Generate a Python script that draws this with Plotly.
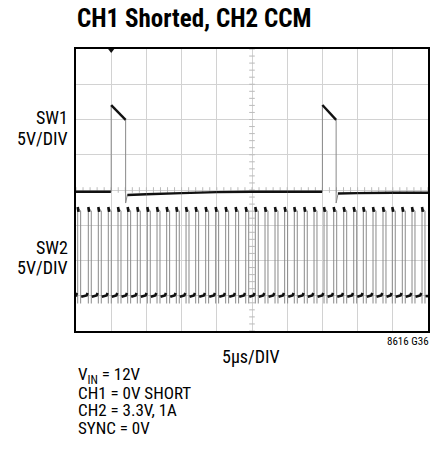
import plotly.graph_objects as go

# ---------------- data ----------------
# time axis in microseconds (5 us/div, 10 div), vertical in divisions (8 div)
SW1_GND_DIV = 3.97          # SW1 ground marker (div)
SW2_GND_DIV = 0.99          # SW2 ground marker (div)
VOLTS_PER_DIV = 5.0

# SW1: two pulses while CH1 is shorted
sw1_pulse_start = [5.0, 35.0]          # us
sw1_pulse_end = [7.05, 36.95]          # us
sw1_pulse_top = [12.2, 12.2]           # V at rising edge
sw1_pulse_droop = [10.1, 10.1]         # V at falling edge
sw1_undershoot = [-1.7, -1.7]          # V just after falling edge
# SW1 baseline (time, volts) between pulses
sw1_base_t = [0.0, 4.95, 7.3, 10.0, 15.0, 20.0, 25.0, 30.0, 34.95, 37.2, 40.0, 45.0, 50.0]
sw1_base_v = [-0.1, -0.1, -0.55, -0.45, -0.3, -0.15, -0.1, -0.1, -0.1, -0.35, -0.3, -0.25, -0.25]

# SW2: rising-edge times of each switching pulse (us)
sw2_rise = [0.24, 1.75, 3.17, 4.59, 5.97, 7.34, 8.71, 10.13, 11.51, 12.88, 14.25, 15.63,
            17.00, 18.42, 19.84, 21.26, 22.68, 24.11, 25.47, 26.85, 28.27, 29.64, 31.01, 32.43,
            33.81, 35.23, 36.61, 38.03, 39.45, 40.81, 42.19, 43.61, 44.93, 46.35, 47.73, 49.15]
SW2_ON_TIME = 0.42      # us
SW2_HIGH = 12.45        # V
SW2_HIGH_END = 12.1     # V
SW2_LOW = 0.0           # V
SW2_UNDER = -1.05       # V

TITLE = "CH1 Shorted, CH2 CCM"
CH_LABELS = [("SW1", "5V/DIV"), ("SW2", "5V/DIV")]
X_LABEL = "5µs/DIV"
FIG_ID = "8616 G36"
CONDITIONS = ["V<sub>IN</sub> = 12V", "CH1 = 0V SHORT", "CH2 = 3.3V, 1A", "SYNC = 0V"]

FONT = "Roboto Condensed, Liberation Sans Narrow, DejaVu Sans Condensed, Arial Narrow, Liberation Sans, sans-serif"

def d1(v):
    return SW1_GND_DIV + v / VOLTS_PER_DIV

def d2(v):
    return SW2_GND_DIV + v / VOLTS_PER_DIV

# ---------------- build trace geometry ----------------
GRAY = "#8a8a8a"
BLACK = "#111111"

# SW1 thin (edges) and thick (flat parts)
sw1_thin_x, sw1_thin_y = [], []
sw1_thick_x, sw1_thick_y = [], []
for s, e, top, dr, us in zip(sw1_pulse_start, sw1_pulse_end, sw1_pulse_top, sw1_pulse_droop, sw1_undershoot):
    sw1_thin_x += [s, s, None, e, e, e + 0.25, None]
    sw1_thin_y += [d1(-0.1), d1(top), None, d1(dr), d1(us), d1(-0.5), None]
    sw1_thick_x += [s, e, None]
    sw1_thick_y += [d1(top), d1(dr), None]
seg_x = list(sw1_base_t)
seg_y = [d1(v) for v in sw1_base_v]
for i in range(len(seg_x) - 1):
    t0, t1 = seg_x[i], seg_x[i + 1]
    if any(t0 < s + 0.01 and t1 > e - 0.01 for s, e in zip(sw1_pulse_start, sw1_pulse_end)):
        continue
    sw1_thick_x += [t0, t1, None]
    sw1_thick_y += [seg_y[i], seg_y[i + 1], None]

# SW2 thin edges, thick low segments and small thick tops
sw2_thin_x, sw2_thin_y = [], []
sw2_low_x, sw2_low_y = [], []
sw2_top_x, sw2_top_y = [], []
prev_end = 0.0
for tr in sw2_rise:
    tf = tr + SW2_ON_TIME
    sw2_thin_x += [tr, tr, tr + 0.06, tf, tf, None]
    sw2_thin_y += [d2(SW2_UNDER), d2(SW2_HIGH), d2(SW2_HIGH), d2(SW2_HIGH_END), d2(SW2_UNDER), None]
    sw2_top_x += [tr, tr + 0.12, None]
    sw2_top_y += [d2(SW2_HIGH + 0.2), d2(SW2_HIGH - 0.5), None]
    if tr - 0.05 > prev_end:
        sw2_low_x += [prev_end, tr - 0.25, tr - 0.1, None]
        sw2_low_y += [d2(SW2_LOW - 0.1), d2(SW2_LOW + 0.1), d2(SW2_LOW + 0.45), None]
    prev_end = tf + 0.08
sw2_low_x += [prev_end, 50.0, None]
sw2_low_y += [d2(SW2_LOW), d2(SW2_LOW), None]

fig = go.Figure()

# center-line minor ticks (graticule decoration)
minor_x = [i * 1.0 for i in range(51)]
minor_y = [i * 0.2 for i in range(41)]
fig.add_trace(go.Scatter(x=minor_x, y=[4.0] * len(minor_x), mode="markers",
                         marker=dict(symbol="line-ns", size=4, line=dict(width=1, color="#bbbbbb")),
                         hoverinfo="skip", showlegend=False))
fig.add_trace(go.Scatter(x=[25.0] * len(minor_y), y=minor_y, mode="markers",
                         marker=dict(symbol="line-ew", size=4, line=dict(width=1, color="#bbbbbb")),
                         hoverinfo="skip", showlegend=False))

fig.add_trace(go.Scatter(x=sw1_thin_x, y=sw1_thin_y, mode="lines",
                         line=dict(color=GRAY, width=1), hoverinfo="skip", showlegend=False))
fig.add_trace(go.Scatter(x=sw2_thin_x, y=sw2_thin_y, mode="lines",
                         line=dict(color=GRAY, width=1), hoverinfo="skip", showlegend=False))
fig.add_trace(go.Scatter(x=sw1_thick_x, y=sw1_thick_y, mode="lines",
                         line=dict(color=BLACK, width=2.4), hoverinfo="skip", showlegend=False))
fig.add_trace(go.Scatter(x=sw2_low_x, y=sw2_low_y, mode="lines",
                         line=dict(color=BLACK, width=2.6), hoverinfo="skip", showlegend=False))
fig.add_trace(go.Scatter(x=sw2_top_x, y=sw2_top_y, mode="lines",
                         line=dict(color=BLACK, width=2.6), hoverinfo="skip", showlegend=False))

# ground markers and trigger marker
fig.add_trace(go.Scatter(x=[-0.3, -0.3], y=[SW1_GND_DIV, SW2_GND_DIV], mode="markers",
                         marker=dict(symbol="triangle-right", size=6, color=BLACK),
                         cliponaxis=False, hoverinfo="skip", showlegend=False))
fig.add_trace(go.Scatter(x=[sw1_pulse_start[0]], y=[7.97], mode="markers",
                         marker=dict(symbol="triangle-down", size=6, color=BLACK),
                         cliponaxis=False, hoverinfo="skip", showlegend=False))

L, R, T, B = 76, 14, 49, 123
W, H = 442, 454
PW, PH = W - L - R, H - T - B

def px(x):
    return (x - L) / PW

def py(y):
    return (H - B - y) / PH

ann = []
ann.append(dict(text="<b>" + TITLE + "</b>", x=px(75), y=py(18), xref="paper", yref="paper",
                xanchor="left", yanchor="middle", showarrow=False,
                font=dict(family=FONT, size=25, color="#000")))
for (a, b), cy in zip(CH_LABELS, [118, 247]):
    ann.append(dict(text=a, x=px(70), y=py(cy), xref="paper", yref="paper",
                    xanchor="right", yanchor="middle", showarrow=False,
                    font=dict(family=FONT, size=18, color="#000")))
    ann.append(dict(text=b, x=px(70), y=py(cy + 20), xref="paper", yref="paper",
                    xanchor="right", yanchor="middle", showarrow=False,
                    font=dict(family=FONT, size=18, color="#000")))
ann.append(dict(text=X_LABEL, x=px(251), y=py(356), xref="paper", yref="paper",
                xanchor="center", yanchor="middle", showarrow=False,
                font=dict(family=FONT, size=18, color="#000")))
ann.append(dict(text=FIG_ID, x=px(431), y=py(342), xref="paper", yref="paper",
                xanchor="right", yanchor="middle", showarrow=False,
                font=dict(family=FONT, size=11, color="#000")))
for i, line in enumerate(CONDITIONS):
    ann.append(dict(text=line, x=px(77), y=py(375 + 17.5 * i), xref="paper", yref="paper",
                    xanchor="left", yanchor="middle", showarrow=False, borderpad=0,
                    font=dict(family=FONT, size=17, color="#000")))

fig.update_layout(
    width=W, height=H,
    margin=dict(l=L, r=R, t=T, b=B, pad=0),
    paper_bgcolor="white", plot_bgcolor="white",
    annotations=ann,
    xaxis=dict(range=[0, 50], dtick=5, showgrid=True, gridcolor="#d2d2d2", gridwidth=1,
               showticklabels=False, ticks="", zeroline=False,
               showline=True, linecolor="#000", linewidth=2, mirror=True),
    yaxis=dict(range=[0, 8], dtick=1, showgrid=True, gridcolor="#d2d2d2", gridwidth=1,
               showticklabels=False, ticks="", zeroline=False,
               showline=True, linecolor="#000", linewidth=2, mirror=True),
)

fig.write_html("out.html", config={"displayModeBar": False},
               post_script="document.body.style.margin='0';document.body.style.padding='0';")
